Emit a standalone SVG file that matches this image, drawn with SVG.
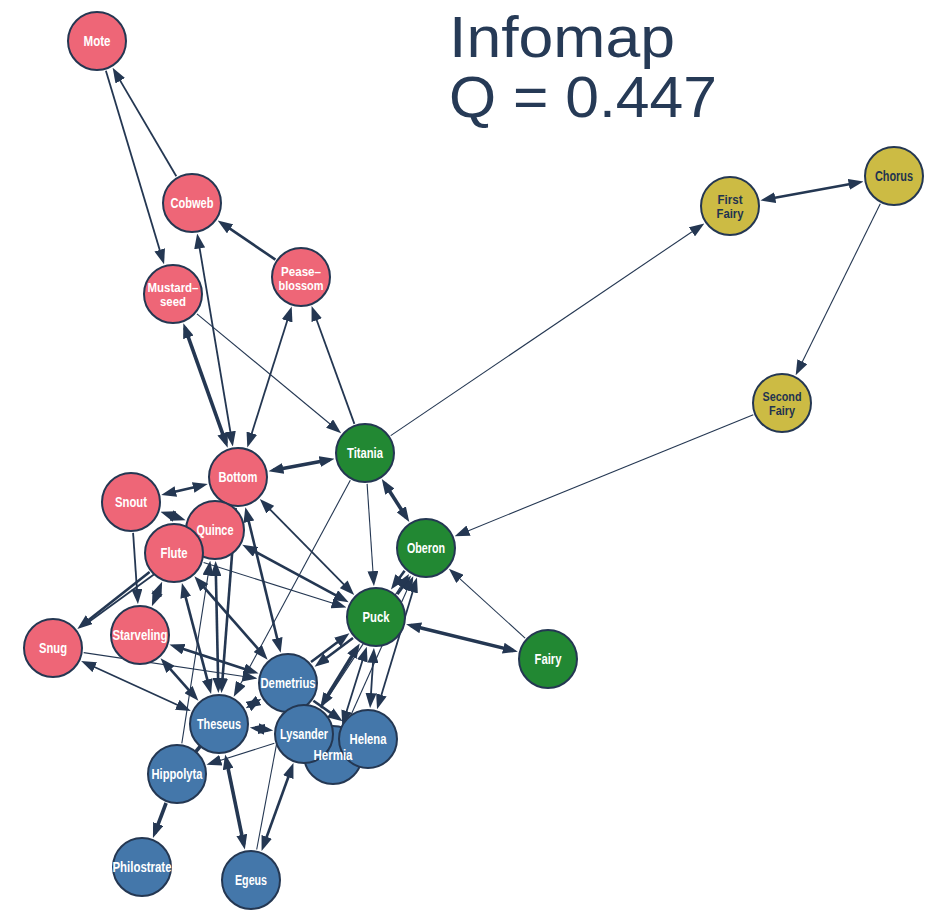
<svg xmlns="http://www.w3.org/2000/svg" width="944" height="911" viewBox="0 0 944 911">
<style>
.e{stroke:#243752;fill:none;stroke-linecap:butt}
.w1{stroke-width:1.1}.w2{stroke-width:1.8}.w3{stroke-width:2.6}.w4{stroke-width:3.6}
.f{marker-end:url(#a)}
.b{marker-start:url(#a);marker-end:url(#a)}
.n circle{stroke:#243752;stroke-width:2}
.r{fill:#ee6677}.g{fill:#228833}.bl{fill:#4477aa}.y{fill:#ccbb44}
.n text,.lbl{font-family:"Liberation Sans",Arial,sans-serif;font-weight:bold;font-size:14px;text-anchor:middle;fill:#ffffff}
.n text.two{font-size:12.5px}
.n text.dk{fill:#1f3350}
.title{font-family:"Liberation Sans",Arial,Helvetica,sans-serif;font-size:58px;fill:#263a56}
</style>
<defs>
<marker id="a" viewBox="0 0 15 11" refX="10" refY="5.5" markerWidth="15" markerHeight="11" markerUnits="userSpaceOnUse" orient="auto-start-reverse">
<path d="M0,0 L15,5.5 L0,11 z" fill="#243752"/>
</marker>
</defs>
<text class="title" x="449" y="57" textLength="226" lengthAdjust="spacingAndGlyphs">Infomap</text>
<text class="title" x="449" y="117" textLength="268" lengthAdjust="spacingAndGlyphs">Q = 0.447</text>
<g id="edges">
<line class="e w2 f" x1="105.9" y1="70.7" x2="162.6" y2="259.5"/>
<line class="e w2 f" x1="176.3" y1="176.3" x2="115.2" y2="72.1"/>
<line class="e w3 f" x1="275.4" y1="259.6" x2="221.8" y2="223.2"/>
<line class="e w2 b" x1="198.0" y1="238.5" x2="232.0" y2="441.5"/>
<line class="e w4 b" x1="185.0" y1="327.9" x2="226.0" y2="443.1"/>
<line class="e w2 b" x1="290.2" y1="311.3" x2="248.8" y2="442.7"/>
<line class="e w2 f" x1="354.4" y1="423.9" x2="313.3" y2="310.8"/>
<line class="e w1 f" x1="196.9" y1="313.8" x2="337.3" y2="430.0"/>
<line class="e w1 f" x1="390.7" y1="435.6" x2="700.2" y2="226.2"/>
<line class="e w3 b" x1="765.4" y1="199.5" x2="858.6" y2="182.5"/>
<line class="e w1 f" x1="880.3" y1="203.8" x2="797.9" y2="370.7"/>
<line class="e w1 f" x1="753.3" y1="414.7" x2="459.3" y2="534.4"/>
<line class="e w4 b" x1="273.4" y1="470.3" x2="329.6" y2="459.7"/>
<line class="e w4 b" x1="384.5" y1="483.3" x2="406.6" y2="517.7"/>
<line class="e w1 f" x1="367.1" y1="483.9" x2="373.6" y2="581.1"/>
<line class="e w1 f" x1="350.3" y1="480.3" x2="236.1" y2="692.3"/>
<line class="e w1 f" x1="525.1" y1="638.1" x2="452.6" y2="572.2"/>
<line class="e w4 b" x1="411.0" y1="625.5" x2="513.0" y2="650.5"/>
<line class="e w3 f" x1="397.4" y1="594.3" x2="408.1" y2="579.5"/>
<line class="e w3 f" x1="404.6" y1="570.8" x2="393.9" y2="585.5"/>
<line class="e w2 b" x1="415.5" y1="582.4" x2="378.5" y2="704.5"/>
<line class="e w1 f" x1="321.0" y1="708.1" x2="406.3" y2="578.1"/>
<line class="e w1 f" x1="345.7" y1="726.7" x2="411.2" y2="580.8"/>
<line class="e w3 f" x1="353.0" y1="638.0" x2="318.6" y2="663.8"/>
<line class="e w3 f" x1="311.0" y1="662.0" x2="345.4" y2="636.2"/>
<line class="e w4 b" x1="357.1" y1="647.7" x2="322.9" y2="703.3"/>
<line class="e w2 b" x1="373.6" y1="652.9" x2="370.4" y2="703.1"/>
<line class="e w2 b" x1="365.3" y1="651.4" x2="343.7" y2="720.6"/>
<line class="e w3 f" x1="313.4" y1="700.8" x2="338.5" y2="718.4"/>
<line class="e w4 b" x1="257.1" y1="701.4" x2="250.0" y2="705.6"/>
<line class="e w4 b" x1="254.8" y1="728.2" x2="268.3" y2="729.8"/>
<line class="e w4" x1="219" y1="724" x2="177" y2="774"/>
<line class="e w4 b" x1="226.2" y1="759.3" x2="243.8" y2="844.7"/>
<line class="e w3 b" x1="291.7" y1="767.8" x2="263.3" y2="846.2"/>
<line class="e w1" x1="256.7" y1="849.5" x2="282.3" y2="713.5"/>
<line class="e w4 f" x1="166.1" y1="803.0" x2="154.7" y2="833.3"/>
<line class="e w1 f" x1="274.4" y1="743.3" x2="211.3" y2="763.2"/>
<line class="e w1 f" x1="181.8" y1="743.4" x2="209.5" y2="565.6"/>
<line class="e w3 f" x1="235.6" y1="507.9" x2="221.8" y2="688.1"/>
<line class="e w3 b" x1="215.7" y1="566.0" x2="218.3" y2="688.0"/>
<line class="e w3 b" x1="183.2" y1="587.8" x2="209.8" y2="689.2"/>
<line class="e w3 b" x1="163.9" y1="661.9" x2="195.1" y2="697.1"/>
<line class="e w2 b" x1="85.7" y1="663.0" x2="186.3" y2="709.0"/>
<line class="e w1 f" x1="83.7" y1="652.6" x2="252.4" y2="677.7"/>
<line class="e w3 b" x1="174.2" y1="646.1" x2="253.8" y2="671.9"/>
<line class="e w3 b" x1="197.7" y1="580.1" x2="264.3" y2="655.9"/>
<line class="e w3 b" x1="246.5" y1="512.0" x2="279.5" y2="648.0"/>
<line class="e w2 b" x1="263.3" y1="502.6" x2="350.7" y2="591.4"/>
<line class="e w3 b" x1="246.7" y1="547.1" x2="344.3" y2="599.9"/>
<line class="e w1 f" x1="203.6" y1="562.4" x2="341.7" y2="606.1"/>
<line class="e w3 b" x1="202.9" y1="485.2" x2="166.1" y2="493.8"/>
<line class="e w3 b" x1="165.2" y1="513.4" x2="180.9" y2="518.6"/>
<line class="e w2 f" x1="133.1" y1="532.9" x2="137.6" y2="599.1"/>
<line class="e w3 f" x1="149.6" y1="572.1" x2="81.3" y2="625.8"/>
<line class="e w2" x1="189.9" y1="548.3" x2="84.5" y2="625.0"/>
<line class="e w3 b" x1="160.2" y1="586.3" x2="153.8" y2="601.7"/>
</g>
<g id="n-Mote" class="n"><circle class="r" cx="97" cy="41" r="29"/><text x="97" y="46" textLength="27" lengthAdjust="spacingAndGlyphs">Mote</text></g>
<g id="n-Cobweb" class="n"><circle class="r" cx="192" cy="203" r="29"/><text x="192" y="208" textLength="43" lengthAdjust="spacingAndGlyphs">Cobweb</text></g>
<g id="n-Mustardseed" class="n"><circle class="r" cx="173" cy="294" r="29"/><text class="two" x="173" y="292" textLength="51" lengthAdjust="spacingAndGlyphs">Mustard–</text><text class="two" x="173" y="306" textLength="26" lengthAdjust="spacingAndGlyphs">seed</text></g>
<g id="n-Peaseblossom" class="n"><circle class="r" cx="301" cy="277" r="29"/><text class="two" x="301" y="276" textLength="40" lengthAdjust="spacingAndGlyphs">Pease–</text><text class="two" x="301" y="290" textLength="45" lengthAdjust="spacingAndGlyphs">blossom</text></g>
<g id="n-Titania" class="n"><circle class="g" cx="365" cy="453" r="29"/><text x="365" y="458" textLength="36" lengthAdjust="spacingAndGlyphs">Titania</text></g>
<g id="n-Bottom" class="n"><circle class="r" cx="238" cy="477" r="29"/><text x="238" y="482" textLength="39" lengthAdjust="spacingAndGlyphs">Bottom</text></g>
<g id="n-Snout" class="n"><circle class="r" cx="131" cy="502" r="29"/><text x="131" y="507" textLength="32" lengthAdjust="spacingAndGlyphs">Snout</text></g>
<g id="n-Quince" class="n"><circle class="r" cx="215" cy="530" r="29"/><text x="215" y="535" textLength="37" lengthAdjust="spacingAndGlyphs">Quince</text></g>
<g id="n-Flute" class="n"><circle class="r" cx="174" cy="553" r="29"/><text x="174" y="558" textLength="27" lengthAdjust="spacingAndGlyphs">Flute</text></g>
<g id="n-Starveling" class="n"><circle class="r" cx="140" cy="635" r="29"/><text x="140" y="640" textLength="55" lengthAdjust="spacingAndGlyphs">Starveling</text></g>
<g id="n-Snug" class="n"><circle class="r" cx="53" cy="648" r="29"/><text x="53" y="653" textLength="28" lengthAdjust="spacingAndGlyphs">Snug</text></g>
<g id="n-Oberon" class="n"><circle class="g" cx="426" cy="548" r="29"/><text x="426" y="553" textLength="38" lengthAdjust="spacingAndGlyphs">Oberon</text></g>
<g id="n-Puck" class="n"><circle class="g" cx="376" cy="617" r="29"/><text x="376" y="622" textLength="27" lengthAdjust="spacingAndGlyphs">Puck</text></g>
<g id="n-Fairy" class="n"><circle class="g" cx="548" cy="659" r="29"/><text x="548" y="664" textLength="27" lengthAdjust="spacingAndGlyphs">Fairy</text></g>
<g id="n-Demetrius" class="n"><circle class="bl" cx="288" cy="683" r="29"/><text x="288" y="688" textLength="55" lengthAdjust="spacingAndGlyphs">Demetrius</text></g>
<g id="n-Theseus" class="n"><circle class="bl" cx="219" cy="724" r="29"/><text x="219" y="729" textLength="44" lengthAdjust="spacingAndGlyphs">Theseus</text></g>
<g id="n-Hermia" class="n"><circle class="bl" cx="333" cy="755" r="29"/></g>
<g id="n-Lysander" class="n"><circle class="bl" cx="304" cy="734" r="29"/><text x="304" y="739" textLength="48" lengthAdjust="spacingAndGlyphs">Lysander</text></g>
<g id="n-Helena" class="n"><circle class="bl" cx="368" cy="739" r="29"/><text x="368" y="744" textLength="37" lengthAdjust="spacingAndGlyphs">Helena</text></g>
<g id="n-Hermia-label"><text class="lbl" x="333" y="760" textLength="39" lengthAdjust="spacingAndGlyphs">Hermia</text></g>
<g id="n-Hippolyta" class="n"><circle class="bl" cx="177" cy="774" r="29"/><text x="177" y="779" textLength="51" lengthAdjust="spacingAndGlyphs">Hippolyta</text></g>
<g id="n-Philostrate" class="n"><circle class="bl" cx="142" cy="867" r="29"/><text x="142" y="872" textLength="59" lengthAdjust="spacingAndGlyphs">Philostrate</text></g>
<g id="n-Egeus" class="n"><circle class="bl" cx="251" cy="880" r="29"/><text x="251" y="885" textLength="32" lengthAdjust="spacingAndGlyphs">Egeus</text></g>
<g id="n-FirstFairy" class="n"><circle class="y" cx="730" cy="206" r="29"/><text class="dk two" x="730" y="204" textLength="25" lengthAdjust="spacingAndGlyphs">First</text><text class="dk two" x="730" y="218" textLength="27" lengthAdjust="spacingAndGlyphs">Fairy</text></g>
<g id="n-Chorus" class="n"><circle class="y" cx="894" cy="176" r="29"/><text class="dk" x="894" y="181" textLength="38" lengthAdjust="spacingAndGlyphs">Chorus</text></g>
<g id="n-SecondFairy" class="n"><circle class="y" cx="782" cy="403" r="29"/><text class="dk two" x="782" y="401" textLength="39" lengthAdjust="spacingAndGlyphs">Second</text><text class="dk two" x="782" y="415" textLength="26" lengthAdjust="spacingAndGlyphs">Fairy</text></g>
</svg>
